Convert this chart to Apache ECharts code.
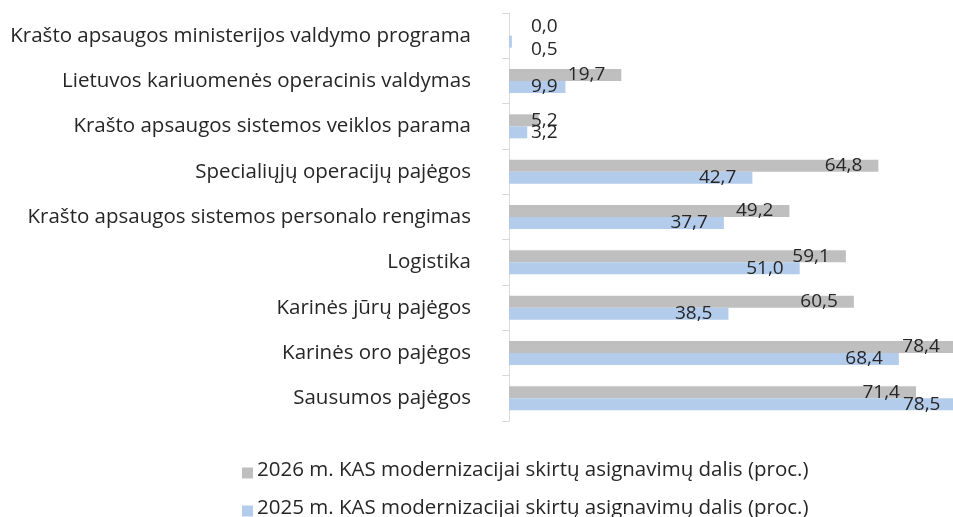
<!DOCTYPE html>
<html>
<head>
<meta charset="utf-8">
<script src="https://cdn.jsdelivr.net/npm/echarts@6/dist/echarts.min.js"></script>
<style>
  html, body { margin: 0; padding: 0; background: #fff; }
  #chart { width: 953px; height: 517px; }
</style>
</head>
<body>
<div id="chart"></div>
<script>
// kategorijos (iš viršaus į apačią)
const categories = [
  'Krašto apsaugos ministerijos valdymo programa',
  'Lietuvos kariuomenės operacinis valdymas',
  'Krašto apsaugos sistemos veiklos parama',
  'Specialiųjų operacijų pajėgos',
  'Krašto apsaugos sistemos personalo rengimas',
  'Logistika',
  'Karinės jūrų pajėgos',
  'Karinės oro pajėgos',
  'Sausumos pajėgos'
];
const seriesNames = [
  '2026 m. KAS modernizacijai skirtų asignavimų dalis (proc.)',
  '2025 m. KAS modernizacijai skirtų asignavimų dalis (proc.)'
];
const values2026 = [0.0, 19.7, 5.2, 64.8, 49.2, 59.1, 60.5, 78.4, 71.4];
const values2025 = [0.5, 9.9, 3.2, 42.7, 37.7, 51.0, 38.5, 68.4, 78.5];

const FONT = '"Open Sans", "Noto Sans", sans-serif';
const colors = ['#BFBFBF', '#B4CCEB'];

// mažos reikšmės: etiketė prasideda šalia ašies
function makeData(vals, dy) {
  return vals.map(function (v, i) {
    if (v < 12) {
      return {
        value: v,
        label: { position: 'insideLeft', distance: 22, offset: [0, dy[i] || 0] }
      };
    }
    return v;
  });
}

function fmt(p) { return p.value.toFixed(1).replace('.', ','); }

function legendFor(name, top) {
  return {
    orient: 'vertical',
    left: 237,
    top: top,
    itemWidth: 11,
    itemHeight: 16,
    itemGap: 0,
    // kvadratėlis prie teksto apačios
    icon: 'path://M0,0M0,5L11,5L11,16L0,16Z',
    textStyle: { fontFamily: FONT, fontSize: 20.5, color: '#262626', padding: [0, 0, 0, -1] },
    data: [name]
  };
}

const chart = echarts.init(document.getElementById('chart'));
const option = {
  animation: false,
  textStyle: { fontFamily: FONT },
  grid: { left: 509, top: 13, width: 456, height: 408, outerBoundsMode: 'none' },
  legend: [legendFor(seriesNames[0], 455), legendFor(seriesNames[1], 493)],
  xAxis: {
    type: 'value',
    min: 0,
    max: 80,
    show: false
  },
  yAxis: {
    type: 'category',
    inverse: true,
    data: categories,
    axisLine: { show: true, lineStyle: { color: '#D9D9D9', width: 1 } },
    axisTick: { show: true, length: 7, lineStyle: { color: '#D9D9D9' } },
    axisLabel: { margin: 38, fontFamily: FONT, fontSize: 20.5, color: '#262626', padding: [3, 0, 0, 0] },
    splitLine: { show: false }
  },
  series: [
    {
      name: seriesNames[0],
      type: 'bar',
      barWidth: 12,
      barGap: '0%',
      itemStyle: { color: colors[0] },
      label: {
        show: true, position: 'insideRight', distance: 16,
        fontFamily: FONT, fontSize: 19, color: '#262626', formatter: fmt
      },
      data: makeData(values2026, [-3])
    },
    {
      name: seriesNames[1],
      type: 'bar',
      barWidth: 12,
      barGap: '0%',
      itemStyle: { color: colors[1] },
      label: {
        show: true, position: 'insideRight', distance: 16,
        fontFamily: FONT, fontSize: 19, color: '#262626', formatter: fmt
      },
      data: makeData(values2025, [8])
    }
  ]
};
chart.setOption(option);
</script>
</body>
</html>
